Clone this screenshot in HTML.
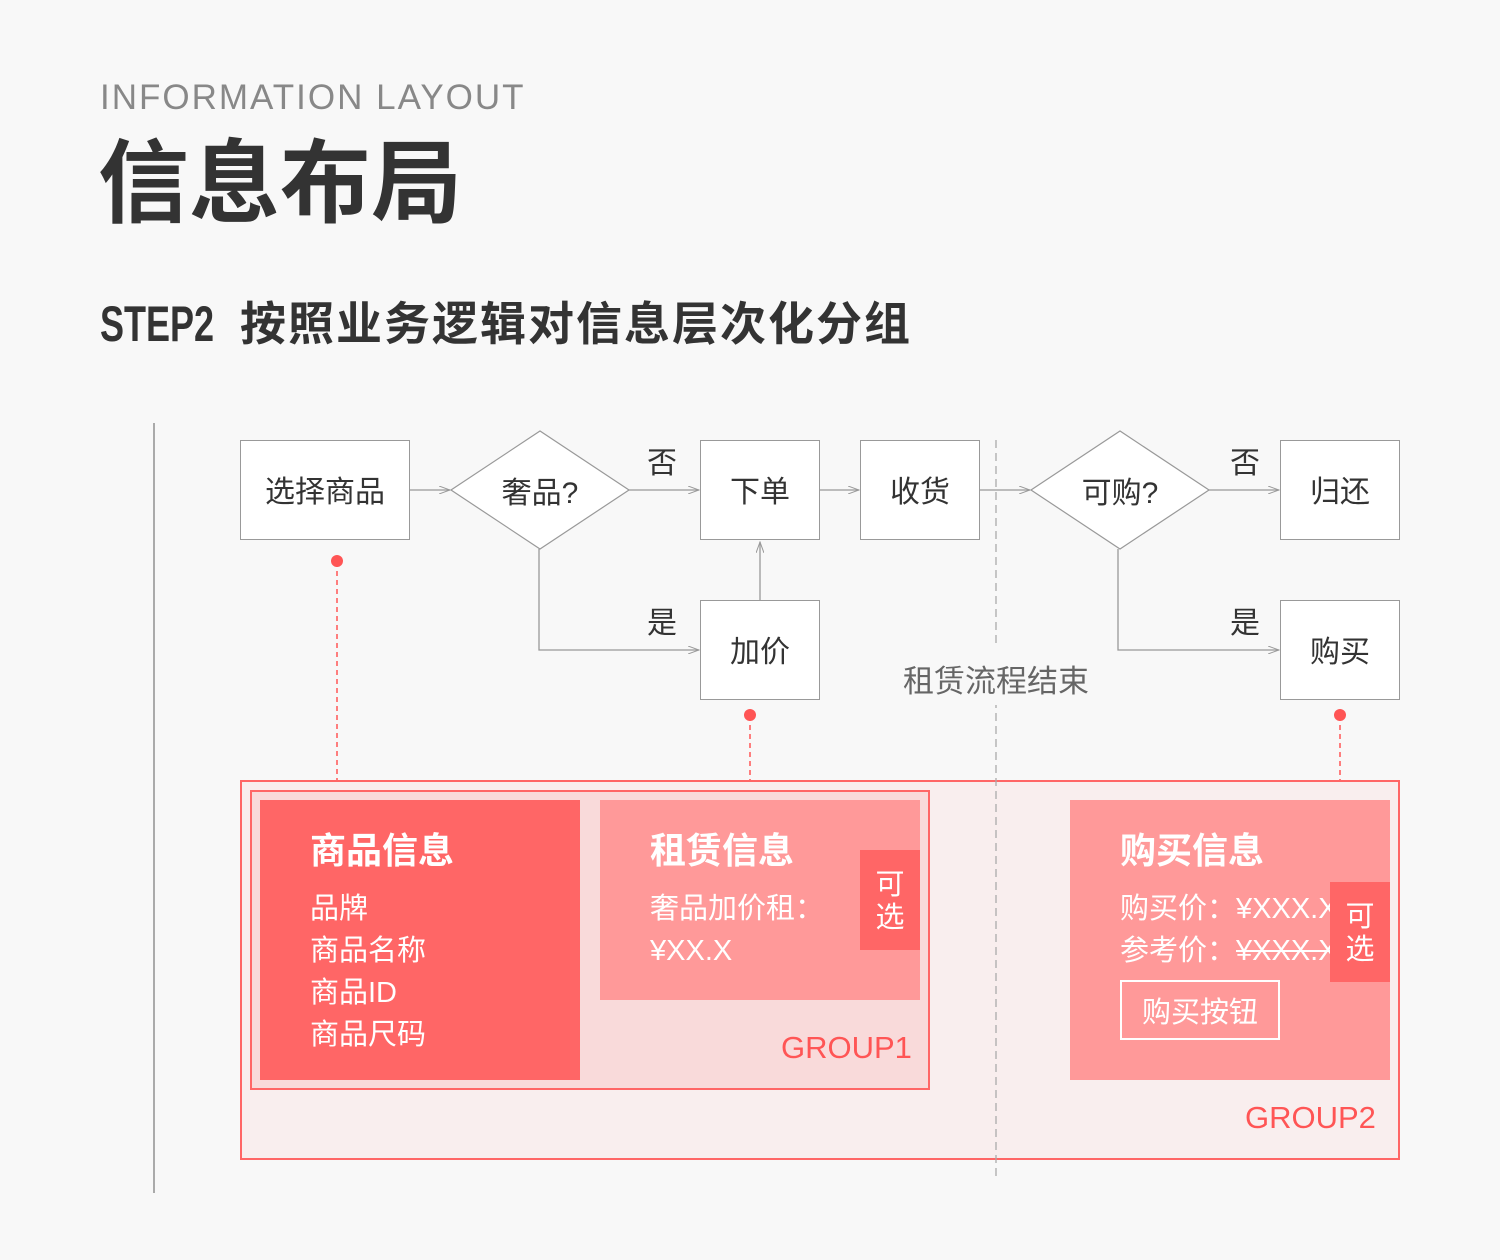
<!DOCTYPE html>
<html><head><meta charset="utf-8"><style>
*{margin:0;padding:0;box-sizing:border-box}
body{width:1500px;height:1260px;background:#f8f8f8;position:relative;overflow:hidden;font-family:"Liberation Sans","Noto Sans CJK SC",sans-serif;color:#333}
.a{position:absolute;white-space:nowrap}
.box{position:absolute;background:#fff;border:1px solid #999;display:flex;align-items:center;justify-content:center;font-size:30px;color:#333}
.w{color:#fff}
</style></head><body>
<div class="a" style="left:100px;top:78px;font-size:35px;color:#888;letter-spacing:2px">INFORMATION LAYOUT</div>
<div class="a" style="left:98px;top:130px;font-size:91px;font-weight:bold;color:#333;line-height:110px">信息布局</div>
<div class="a" style="left:100px;top:294px;font-size:50px;font-weight:bold;line-height:60px;transform:scaleX(0.72);transform-origin:left">STEP2</div>
<div class="a" style="left:240px;top:294px;font-size:46px;font-weight:bold;line-height:60px;letter-spacing:2px">按照业务逻辑对信息层次化分组</div>

<div class="a" style="left:153px;top:423px;width:2px;height:770px;background:#aaa"></div>

<div class="a" style="left:240px;top:780px;width:1160px;height:380px;border:2px solid #ff6666;background:#f9eeee"></div>
<div class="a" style="left:250px;top:790px;width:680px;height:300px;border:2px solid #ff6666;background:#f9dada"></div>
<div class="a" style="left:260px;top:800px;width:320px;height:280px;background:#ff6666"></div>
<div class="a w" style="left:310px;top:822px;font-size:36px;font-weight:bold">商品信息</div>
<div class="a w" style="left:310px;top:888px;font-size:29px;line-height:42px">品牌<br>商品名称<br>商品ID<br>商品尺码</div>
<div class="a" style="left:600px;top:800px;width:320px;height:200px;background:#ff9999"></div>
<div class="a w" style="left:650px;top:822px;font-size:36px;font-weight:bold">租赁信息</div>
<div class="a w" style="left:650px;top:888px;font-size:29px;line-height:42px">奢品加价租：<br>¥XX.X</div>
<div class="a w" style="left:860px;top:850px;width:60px;height:100px;background:#ff6666;font-size:29px;line-height:33px;text-align:center;padding-top:19px;white-space:normal">可<br>选</div>
<div class="a" style="left:781px;top:1030px;font-size:31px;color:#ff5555">GROUP1</div>

<div class="a" style="left:1070px;top:800px;width:320px;height:280px;background:#ff9999;overflow:hidden">
<div class="a w" style="left:50px;top:22px;font-size:36px;font-weight:bold">购买信息</div>
<div class="a w" style="left:50px;top:88px;font-size:29px;line-height:42px">购买价：¥XXX.X<br>参考价：<span style="text-decoration:line-through">¥XXX.X</span></div>
<div class="a w" style="left:50px;top:180px;width:160px;height:60px;border:2px solid #fff;font-size:29px;display:flex;align-items:center;justify-content:center">购买按钮</div>
</div>
<div class="a w" style="left:1330px;top:882px;width:60px;height:100px;background:#ff6666;font-size:29px;line-height:33px;text-align:center;padding-top:19px">可<br>选</div>
<div class="a" style="left:1245px;top:1100px;font-size:31px;color:#ff5555">GROUP2</div>

<svg class="a" style="left:0;top:0" width="1500" height="1260">
<defs><marker id="ar" markerWidth="12" markerHeight="8" refX="11" refY="4" orient="auto" markerUnits="userSpaceOnUse"><path d="M0,0 L11,4 L0,8" fill="none" stroke="#999" stroke-width="1"/></marker></defs>
<g stroke="#999" stroke-width="1.3" fill="none">
<line x1="410" y1="490" x2="450" y2="490" marker-end="url(#ar)"/>
<line x1="629" y1="490" x2="699" y2="490" marker-end="url(#ar)"/>
<line x1="820" y1="490" x2="859" y2="490" marker-end="url(#ar)"/>
<line x1="980" y1="490" x2="1030" y2="490" marker-end="url(#ar)"/>
<line x1="1209" y1="490" x2="1279" y2="490" marker-end="url(#ar)"/>
<polyline points="539,549 539,650 699,650" marker-end="url(#ar)"/>
<line x1="760" y1="600" x2="760" y2="542" marker-end="url(#ar)"/>
<polyline points="1118,549 1118,650 1279,650" marker-end="url(#ar)"/>
<line x1="996" y1="440" x2="996" y2="1180" stroke="#aaa" stroke-dasharray="8,5"/>
</g>
<polygon points="451,490 540,431 629,490 540,549" fill="#fff" stroke="#999" stroke-width="1.2"/>
<polygon points="1031,490 1120,431 1209,490 1120,549" fill="#fff" stroke="#999" stroke-width="1.2"/>
<g stroke="#ff5555" stroke-width="1.5" stroke-dasharray="5,4">
<line x1="337" y1="562" x2="337" y2="780"/>
<line x1="750" y1="716" x2="750" y2="780"/>
<line x1="1340" y1="716" x2="1340" y2="780"/>
</g>
<g fill="#ff5555"><circle cx="337" cy="561" r="6"/><circle cx="750" cy="715" r="6"/><circle cx="1340" cy="715" r="6"/></g>
</svg>
<div class="a" style="left:451px;top:468px;width:178px;text-align:center;font-size:30px">奢品?</div>
<div class="a" style="left:1031px;top:468px;width:178px;text-align:center;font-size:30px">可购?</div>
<div class="a" style="left:958px;top:645px;width:80px;height:60px;background:#f8f8f8"></div>
<div class="a" style="left:896px;top:656px;width:200px;text-align:center;font-size:31px;color:#666">租赁流程结束</div>

<div class="box" style="left:240px;top:440px;width:170px;height:100px;padding-bottom:3px">选择商品</div>
<div class="box" style="left:700px;top:440px;width:120px;height:100px;padding-bottom:3px">下单</div>
<div class="box" style="left:860px;top:440px;width:120px;height:100px;padding-bottom:3px">收货</div>
<div class="box" style="left:1280px;top:440px;width:120px;height:100px;padding-bottom:3px">归还</div>
<div class="box" style="left:700px;top:600px;width:120px;height:100px;padding-bottom:3px">加价</div>
<div class="box" style="left:1280px;top:600px;width:120px;height:100px;padding-bottom:3px">购买</div>
<div class="a" style="left:647px;top:438px;font-size:30px">否</div>
<div class="a" style="left:647px;top:598px;font-size:30px">是</div>
<div class="a" style="left:1230px;top:438px;font-size:30px">否</div>
<div class="a" style="left:1230px;top:598px;font-size:30px">是</div>
</body></html>
